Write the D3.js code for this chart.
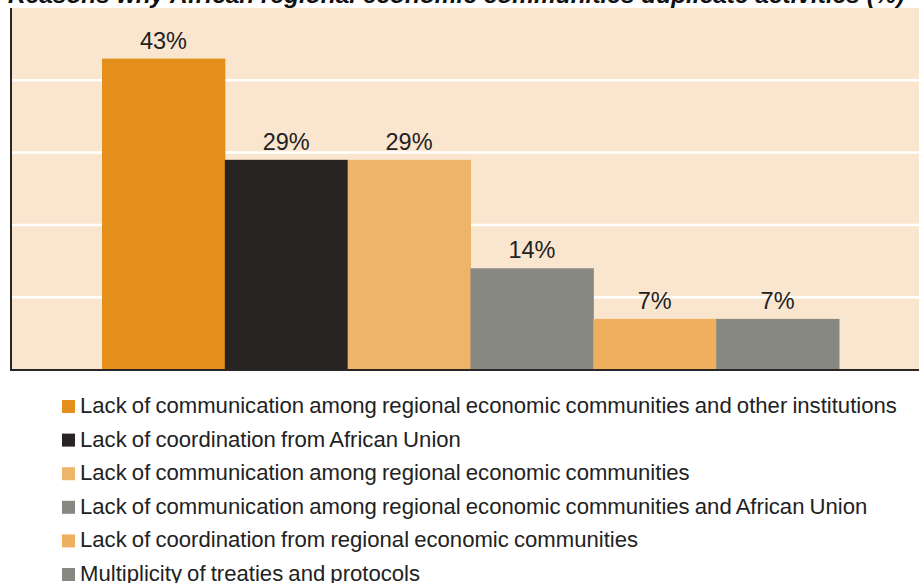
<!DOCTYPE html>
<html><head><meta charset="utf-8">
<script src="https://cdn.jsdelivr.net/npm/d3@7"></script>
<style>body{margin:0;background:#fff}svg{display:block}</style>
</head><body>
<svg id="c" width="919" height="583"></svg>
<script>
const title = "Reasons why African regional economic communities duplicate activities (%)";
const categories = [
  "Lack of communication among regional economic communities and other institutions",
  "Lack of coordination from African Union",
  "Lack of communication among regional economic communities",
  "Lack of communication among regional economic communities and African Union",
  "Lack of coordination from regional economic communities",
  "Multiplicity of treaties and protocols"
];
const values = [43, 29, 29, 14, 7, 7];
const colors = ["#E48E1B", "#282423", "#EEB469", "#888883", "#EEB05E", "#888883"];
const gridTicks = [10, 20, 30, 40];

const svg = d3.select("#c");
const font = "'Liberation Sans', Arial, Helvetica, sans-serif";
const panel = {x0: 11, x1: 919, y0: 8, y1: 369.5};

const y = d3.scaleLinear().domain([0, 50]).range([panel.y1, panel.y0]);
const x = d3.scaleBand().domain(categories).range([102, 839]).paddingInner(0).paddingOuter(0);

// title
const t = svg.append("text").attr("x", 8).attr("y", 3)
  .attr("font-family", font).attr("font-weight", "bold").attr("font-style", "italic")
  .attr("font-size", 21).attr("fill", "#111").text(title);
const tw = t.node().getComputedTextLength();
t.attr("font-size", 21 * 897 / tw);

// panel
svg.append("rect").attr("x", panel.x0).attr("y", panel.y0)
  .attr("width", panel.x1 - panel.x0).attr("height", panel.y1 - panel.y0).attr("fill", "#FAE6CF");

// gridlines
svg.append("g").selectAll("line").data(gridTicks).join("line")
  .attr("x1", panel.x0).attr("x2", panel.x1)
  .attr("y1", d => y(d)).attr("y2", d => y(d))
  .attr("stroke", "#fff").attr("stroke-width", 2.5);

// bars
svg.append("g").selectAll("rect").data(values).join("rect")
  .attr("x", (d, i) => x(categories[i]))
  .attr("width", x.bandwidth() + 0.5)
  .attr("y", d => y(d))
  .attr("height", d => y(0) - y(d))
  .attr("fill", (d, i) => colors[i]);

// labels
svg.append("g").selectAll("text").data(values).join("text")
  .attr("x", (d, i) => x(categories[i]) + x.bandwidth() / 2)
  .attr("y", d => y(d) - 10)
  .attr("text-anchor", "middle")
  .attr("font-family", font).attr("font-size", 23.5).attr("fill", "#222")
  .text(d => d + "%");

// axes lines
svg.append("line").attr("x1", panel.x0).attr("x2", panel.x0).attr("y1", panel.y0).attr("y2", 371)
  .attr("stroke", "#2a2625").attr("stroke-width", 2);
svg.append("line").attr("x1", panel.x0 - 1).attr("x2", panel.x1).attr("y1", 370).attr("y2", 370)
  .attr("stroke", "#2a2625").attr("stroke-width", 2);

// legend
const lg = svg.append("g");
const rows = lg.selectAll("g").data(categories).join("g")
  .attr("transform", (d, i) => `translate(62, ${413 + i * 33.6})`);
rows.append("rect").attr("x", 0).attr("y", -13).attr("width", 13).attr("height", 13)
  .attr("fill", (d, i) => colors[i]);
const lt = rows.append("text").attr("x", 18).attr("y", 0)
  .attr("font-family", font).attr("font-size", 20).attr("fill", "#222")
  .attr("word-spacing", -1).text(d => d);
const w0 = lt.nodes()[0].getComputedTextLength();
lt.attr("font-size", 20 * 816 / w0);
</script>
</body></html>
